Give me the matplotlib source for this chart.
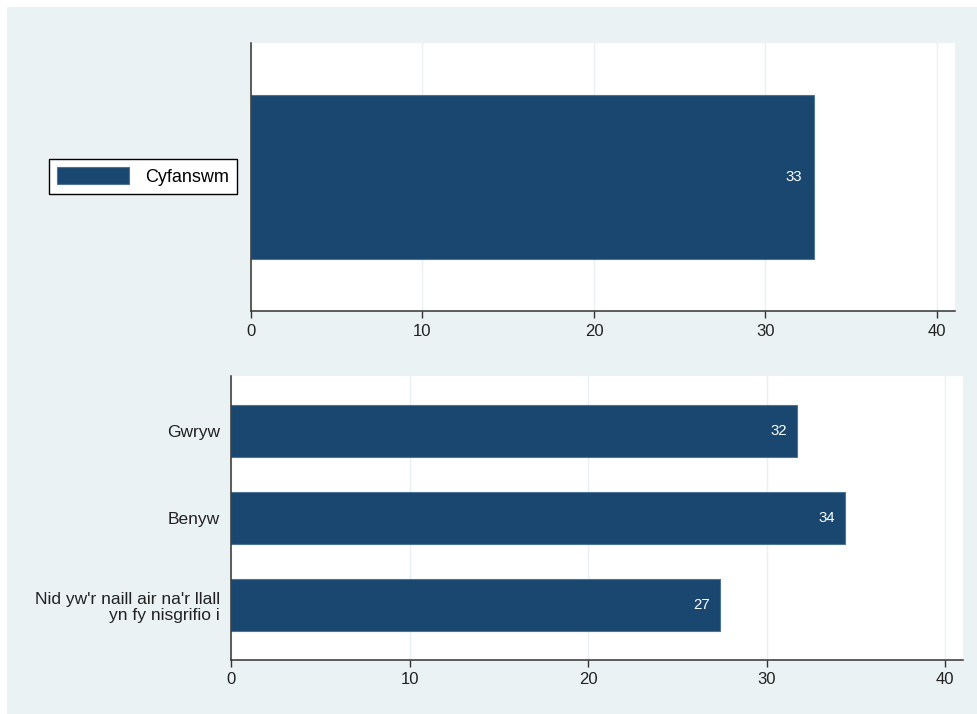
import matplotlib.pyplot as plt
from matplotlib.patches import Rectangle, Patch

plt.rcParams['font.family'] = ['Liberation Sans', 'DejaVu Sans']

# data
total_label = "Cyfanswm"
total_value = 32.8

gender_cats = ["Gwryw", "Benyw", "Nid yw'r naill air na'r llall\nyn fy nisgrifio i"]
gender_values = [31.7, 34.4, 27.4]

xticks = [0, 10, 20, 30, 40]

navy = '#1a476f'
edge = '#4d7396'
bg = '#eaf2f3'
grid_c = '#e9f0f3'
spine_c = '#333333'

fig = plt.figure(figsize=(9.78, 7.14), dpi=100, facecolor='white')
# light graph region, with a thin white margin on the top and left
fig.patches.append(Rectangle((7/978, 0), 971/978, 707/714, transform=fig.transFigure,
                             facecolor=bg, edgecolor='none', zorder=-10))


def style(ax, xmax):
    ax.set_facecolor('white')
    ax.set_xlim(0, xmax)
    ax.set_xticks(xticks)
    ax.grid(axis='x', color=grid_c, linewidth=1)
    ax.set_axisbelow(True)
    for s in ['top', 'right']:
        ax.spines[s].set_visible(False)
    for s in ['left', 'bottom']:
        ax.spines[s].set_color(spine_c)
        ax.spines[s].set_linewidth(1.1)
    ax.tick_params(axis='x', length=5, width=1, color=spine_c, labelsize=12,
                   labelcolor='#222222', pad=4)
    ax.tick_params(axis='y', length=0, labelsize=12.5, labelcolor='#222222', pad=8)


# top panel: total
ax1 = fig.add_axes([251/978, 1-311/714, 704/978, 268/714])
ax1.barh([0], [total_value], height=0.6, color=navy, edgecolor=edge, linewidth=0.8)
ax1.set_ylim(-0.49, 0.49)
ax1.set_yticks([])
style(ax1, 41.05)
ax1.text(total_value - 0.65, 0, f"{round(total_value)}", ha='right', va='center',
         color='white', fontsize=10.8)

fig.legend(handles=[Patch(facecolor=navy, edgecolor=edge, linewidth=0.8, label=total_label)],
           loc='center', bbox_to_anchor=(143/978, 1-176.5/714), fontsize=13,
           frameon=True, fancybox=False, edgecolor='black', framealpha=1,
           handlelength=4.0, handleheight=1.0, handletextpad=0.9,
           borderpad=0.45, borderaxespad=0)

# bottom panel: by gender
ax2 = fig.add_axes([231/978, 1-660/714, 732/978, 284/714])
ypos = list(range(len(gender_cats)))
ax2.barh(ypos, gender_values, height=0.6, color=navy, edgecolor=edge, linewidth=0.8)
ax2.set_ylim(len(gender_cats) - 1 + 0.632, -0.632)
ax2.set_yticks(ypos)
ax2.set_yticklabels(gender_cats, linespacing=1.12)
style(ax2, 41.0)
for y, v in zip(ypos, gender_values):
    ax2.text(v - 0.55, y, f"{round(v)}", ha='right', va='center',
             color='white', fontsize=10.8)

plt.savefig('out.png', dpi=100, facecolor='white')
